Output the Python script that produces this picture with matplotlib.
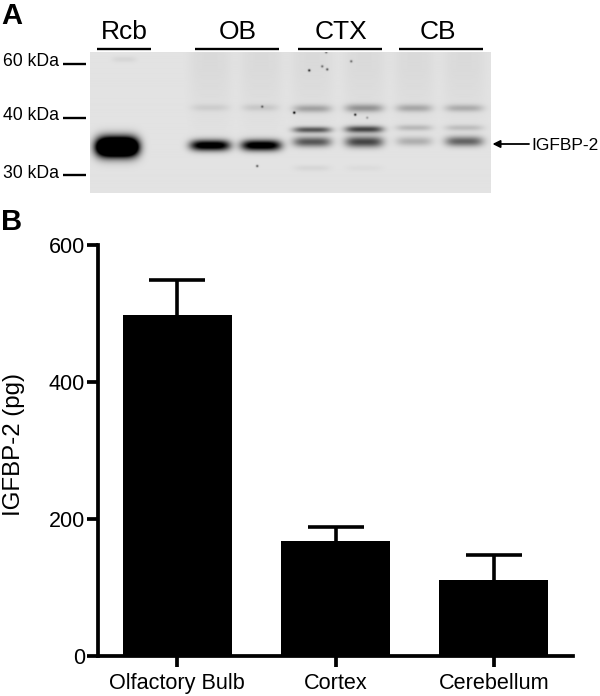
import numpy as np
import matplotlib
matplotlib.use("Agg")
import matplotlib.pyplot as plt

plt.rcParams['font.family'] = ['Liberation Sans', 'DejaVu Sans']

W, H = 600, 696

# Panel B data
regions = ['Olfactory Bulb', 'Cortex', 'Cerebellum']
means = [498, 168, 111]
errors = [51, 20, 36]
y_ticks = [0, 200, 400, 600]

# Panel A annotations
lane_labels = ['Rcb', 'OB', 'CTX', 'CB']
lane_label_x = [124, 238, 341, 438]
lane_line_start = [97, 195, 298, 399]
lane_line_end = [151, 279, 382, 483]
marker_labels = ['60 kDa', '40 kDa', '30 kDa']
marker_y = [64, 118, 175]

# Blot bands: centre x, half width, centre y, half height, darkness
bands = [
    (117, 21, 147, 9.5, 2.2),
    (210, 20, 145.5, 5.4, 1.05), (261, 20, 145.5, 5.4, 1.05),
    (210, 19, 108, 3.5, 0.07), (260, 18, 108, 3.5, 0.09),
    (312, 19, 109, 3.8, 0.24), (364, 19, 108.5, 4.0, 0.30),
    (312, 19, 130, 3.0, 0.55), (364, 19, 129.5, 3.4, 0.62),
    (312, 19, 142, 5.0, 0.55), (364, 19, 142, 5.5, 0.62),
    (312, 18, 168, 3.0, 0.05), (364, 18, 168, 3.0, 0.03),
    (414, 18, 108.5, 3.8, 0.22), (464, 19, 108.5, 3.6, 0.20),
    (414, 18, 128, 3.0, 0.16), (464, 19, 128, 3.0, 0.14),
    (414, 18, 141.5, 4.5, 0.20), (464, 19, 141.5, 5.0, 0.50),
    (124, 12, 60, 3.0, 0.05),
]
# Faint lane smears: centre x, half width
smears = [(210, 21), (261, 21), (312, 21), (364, 21), (414, 20), (464, 21)]
# Specks: x, y, darkness
specks = [(309, 71, .8), (322, 67, .5), (327, 70, .6), (351, 62, .5), (294, 113, 1.0),
          (355, 115, .8), (257, 166, .6), (262, 107, .5), (326, 53, .5), (367, 118, .3)]

fig = plt.figure(figsize=(W / 100, H / 100), dpi=100, facecolor='white')


def px_axes(l, t, r, b):
    return fig.add_axes([l / W, 1 - b / H, (r - l) / W, (b - t) / H])


# Overlay for panel A annotations, in pixel coordinates
ov = fig.add_axes([0, 0, 1, 1], zorder=3)
ov.set_xlim(0, W)
ov.set_ylim(H, 0)
ov.axis('off')
ov.patch.set_alpha(0)

# Blot image
gel = px_axes(90, 52, 491, 193)
xx, yy = np.meshgrid(np.arange(90, 491, 0.5), np.arange(52, 193, 0.5))
dark = np.zeros_like(xx)
for cx, wx, cy, wy, a in bands:
    dark += a * np.exp(-((xx - cx) / wx) ** 4) * np.exp(-((yy - cy) / wy) ** 2)
for cx, wx in smears:
    dark += 0.035 * np.exp(-((xx - cx) / wx) ** 4) * np.clip((150 - yy) / 80, 0, 1)
for sx, sy, a in specks:
    dark += a * np.exp(-((xx - sx) ** 2 + (yy - sy) ** 2) / 1.3)
grey = np.clip(0.89 - dark, 0, 1)
gel.imshow(grey, cmap='gray', vmin=0, vmax=1, aspect='auto', interpolation='bilinear')
gel.axis('off')

# Panel A text
ov.text(1, 16, 'A', fontsize=21, fontweight='bold', ha='left', va='center')
ov.text(1, 222, 'B', fontsize=21, fontweight='bold', ha='left', va='center')
for lab, x, a, b in zip(lane_labels, lane_label_x, lane_line_start, lane_line_end):
    ov.text(x, 32, lab, fontsize=19, ha='center', va='center')
    ov.plot([a, b], [49, 49], color='black', lw=1.7, solid_capstyle='butt')
for lab, y in zip(marker_labels, marker_y):
    ov.text(59, y - 2, lab, fontsize=12.7, ha='right', va='center')
    ov.plot([62.5, 86], [y, y], color='black', lw=1.7, solid_capstyle='butt')
ov.annotate('', xy=(492.5, 144), xytext=(529, 144),
            arrowprops=dict(arrowstyle='-|>', color='black', lw=1.3, mutation_scale=11,
                            shrinkA=0, shrinkB=0))
ov.text(531, 146, 'IGFBP-2', fontsize=12.5, ha='left', va='center')

# Panel B bars
ax = px_axes(98, 245, 573, 656)
ax.patch.set_alpha(0)
pos = np.arange(len(regions))
_, caps, _ = ax.errorbar(pos, means, yerr=[np.zeros(3), errors], fmt='none', ecolor='black',
                         elinewidth=2.6, capsize=20, capthick=2.6, zorder=1)
caps[0].set_visible(False)
ax.bar(pos, means, width=0.688, color='black', zorder=2)
ax.set_xlim(-0.5, 2.5)
ax.set_ylim(0, 600)
ax.set_xticks(pos, regions)
ax.set_yticks(y_ticks)
for s in ('top', 'right'):
    ax.spines[s].set_visible(False)
for s in ('left', 'bottom'):
    ax.spines[s].set_linewidth(2.7)
ax.tick_params(axis='y', length=8, width=2.7, labelsize=15.5, pad=1.5)
ax.tick_params(axis='x', length=8, width=2.7, labelsize=15.6, pad=4.5)
fig.text(14 / W, 1 - 445 / H, 'IGFBP-2 (pg)', fontsize=17.3, rotation=90, ha='center', va='center')

fig.savefig('out.png', dpi=100)
